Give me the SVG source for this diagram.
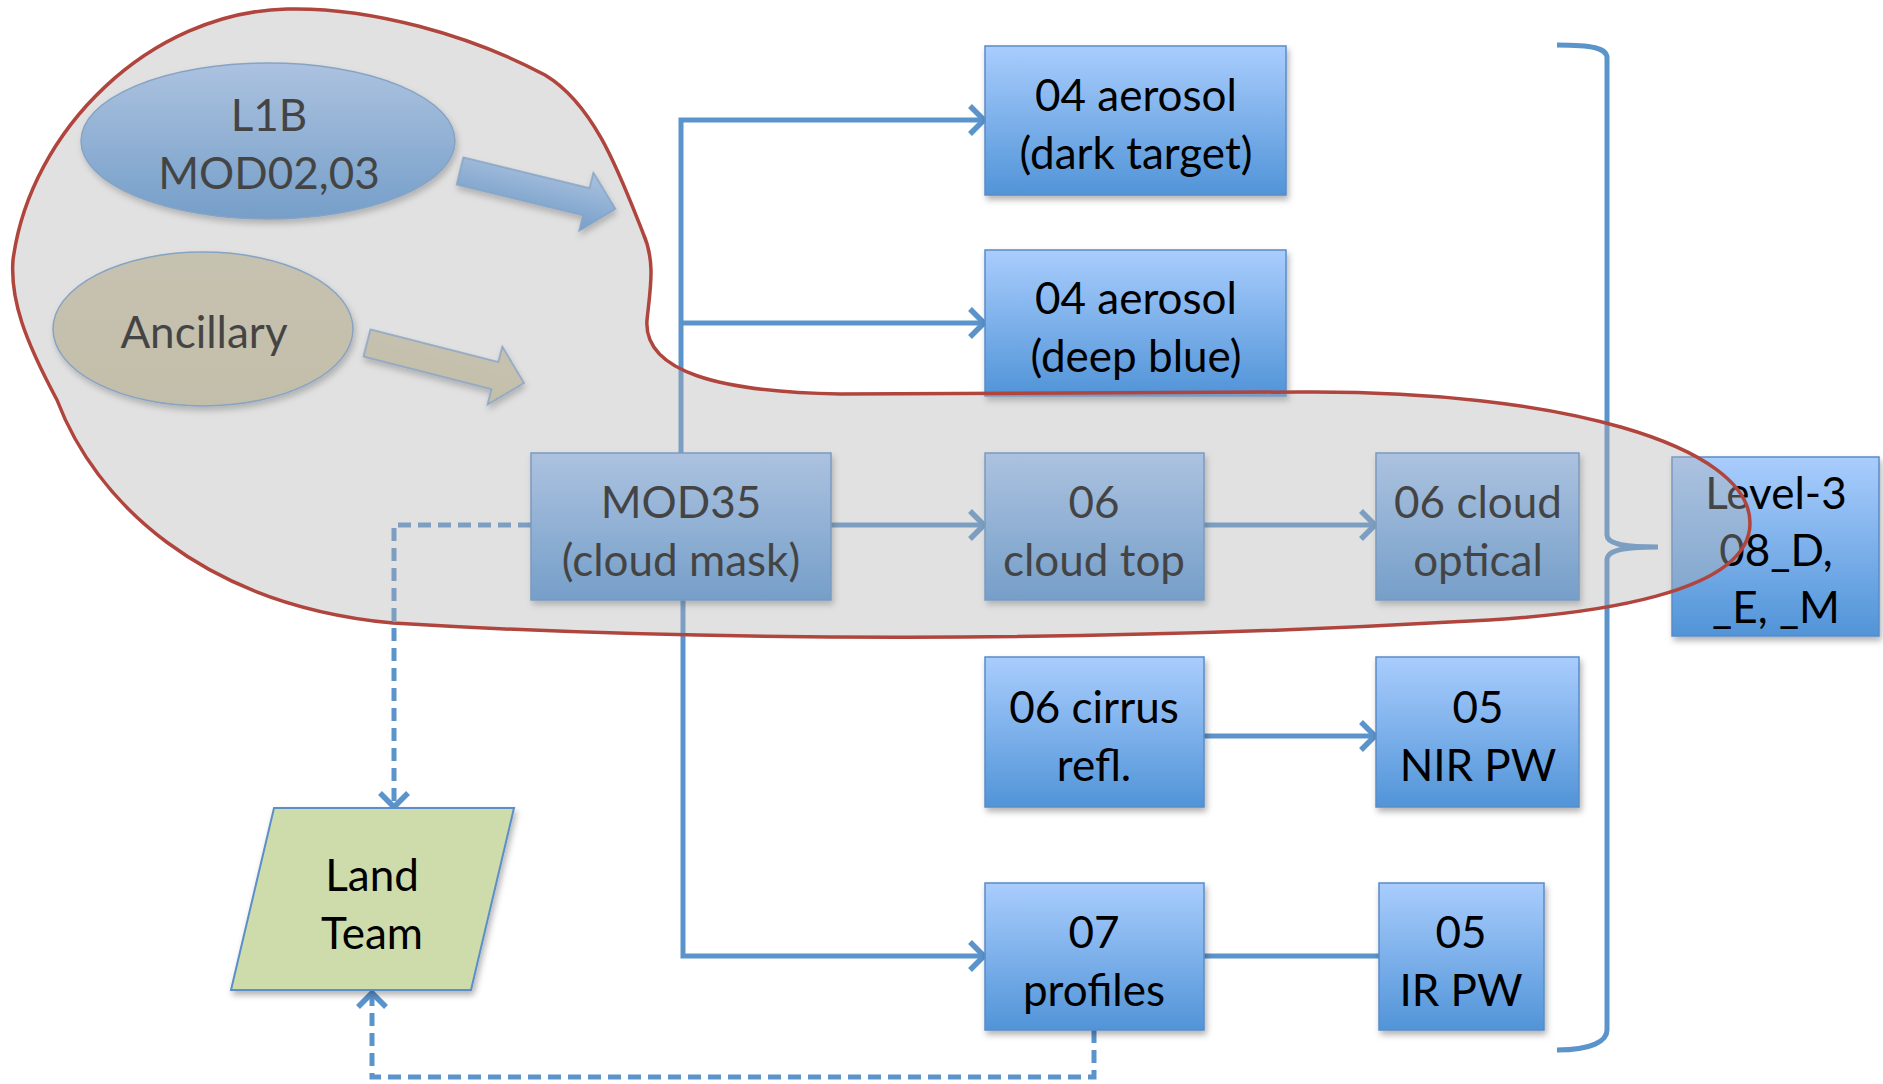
<svg xmlns="http://www.w3.org/2000/svg" width="1883" height="1084" viewBox="0 0 1883 1084">
<defs>
<linearGradient id="bg" x1="0" y1="0" x2="0" y2="1">
<stop offset="0" stop-color="#a9cdfd"/>
<stop offset="1" stop-color="#5194d8"/>
</linearGradient>
<linearGradient id="tan" x1="0" y1="0" x2="0" y2="1">
<stop offset="0" stop-color="#d4cdb0"/>
<stop offset="1" stop-color="#cfc7a6"/>
</linearGradient>
<filter id="sh" x="-10%" y="-10%" width="130%" height="130%">
<feDropShadow dx="2" dy="4" stdDeviation="3" flood-color="#000" flood-opacity="0.3"/>
</filter>
<marker id="ah" markerUnits="userSpaceOnUse" markerWidth="26" markerHeight="34" viewBox="0 0 26 34" refX="22" refY="17" orient="auto">
<path d="M7,3 L21,17 L7,31" fill="none" stroke="#5b93cb" stroke-width="5.5"/>
</marker>
<style>
.box{fill:url(#bg);stroke:#5a8cc8;stroke-width:1.5;filter:url(#sh)}
.t{font-family:Lato,"Open Sans",sans-serif;font-size:44px;text-anchor:middle;fill:#000}
.c{fill:none;stroke:#5b93cb;stroke-width:5}
.d{stroke-dasharray:13 7}
.blk{stroke:#6c9bd0;stroke-width:1.5;filter:url(#sh)}
</style>
</defs>
<rect width="1883" height="1084" fill="#fff"/>

<g id="connectors">
<path class="c" d="M681,453 L681,120 L985,120" marker-end="url(#ah)"/>
<path class="c" d="M681,323 L985,323" marker-end="url(#ah)"/>
<path class="c" d="M683,600 L683,956 L985,956" marker-end="url(#ah)"/>
<path class="c" d="M831,525 L985,525" marker-end="url(#ah)"/>
<path class="c" d="M1204,525 L1376,525" marker-end="url(#ah)"/>
<path class="c" d="M1204,736 L1376,736" marker-end="url(#ah)"/>
<path class="c" d="M1204,956 L1379,956"/>
<path class="c d" d="M531,525 L394,525 L394,808" marker-end="url(#ah)"/>
<path class="c d" d="M1094,1030 L1094,1077 L372,1077 L372,992" marker-end="url(#ah)"/>
<path class="c" d="M1557,45 C1592,45 1607,48 1607,58 L1607,535 C1607,543 1620,547 1658,547 C1620,547 1607,551 1607,560 L1607,1030 C1607,1041 1592,1050 1557,1050"/>
</g>

<g id="l1b">
<ellipse cx="268" cy="141" rx="187" ry="78" fill="url(#bg)" class="blk"/>
<text class="t" x="269" y="131">L1B</text>
<text class="t" x="269" y="189">MOD02,03</text>
</g>
<g id="l1b-arrow">
<polygon points="0,-14 130,-14 130,-30 160,0 130,30 130,14 0,14" transform="translate(460,171) rotate(13.7)" fill="url(#bg)" class="blk"/>
</g>
<g id="ancillary">
<ellipse cx="203" cy="329" rx="150" ry="77" fill="url(#tan)" class="blk"/>
<text class="t" x="204" y="348">Ancillary</text>
</g>
<g id="ancillary-arrow">
<polygon points="0,-14 132,-14 132,-30 162,0 132,30 132,14 0,14" transform="translate(367,343) rotate(14.3)" fill="url(#tan)" class="blk"/>
</g>

<g id="mod35">
<rect class="box" x="531" y="453" width="300" height="147"/>
<text class="t" x="681" y="518">MOD35</text>
<text class="t" x="681" y="576">(cloud mask)</text>
</g>
<g id="aerosol-dt">
<rect class="box" x="985" y="46" width="301" height="149"/>
<text class="t" x="1136" y="111">04 aerosol</text>
<text class="t" x="1136" y="169">(dark target)</text>
</g>
<g id="aerosol-db">
<rect class="box" x="985" y="250" width="301" height="146"/>
<text class="t" x="1136" y="314">04 aerosol</text>
<text class="t" x="1136" y="372">(deep blue)</text>
</g>
<g id="cloud-top">
<rect class="box" x="985" y="453" width="219" height="147"/>
<text class="t" x="1094" y="518">06</text>
<text class="t" x="1094" y="576">cloud top</text>
</g>
<g id="cloud-optical">
<rect class="box" x="1376" y="453" width="203" height="147"/>
<text class="t" x="1478" y="518">06 cloud</text>
<text class="t" x="1478" y="576">optical</text>
</g>
<g id="level3">
<rect class="box" x="1672" y="457" width="207" height="179"/>
<text class="t" x="1776" y="509">Level-3</text>
<text class="t" x="1776" y="566">08_D,</text>
<text class="t" x="1776" y="623">_E, _M</text>
</g>
<g id="cirrus">
<rect class="box" x="985" y="657" width="219" height="150"/>
<text class="t" x="1094" y="723">06 cirrus</text>
<text class="t" x="1094" y="781">refl.</text>
</g>
<g id="nir-pw">
<rect class="box" x="1376" y="657" width="203" height="150"/>
<text class="t" x="1478" y="723">05</text>
<text class="t" x="1478" y="781">NIR PW</text>
</g>
<g id="profiles">
<rect class="box" x="985" y="883" width="219" height="147"/>
<text class="t" x="1094" y="948">07</text>
<text class="t" x="1094" y="1006">profiles</text>
</g>
<g id="ir-pw">
<rect class="box" x="1379" y="883" width="165" height="147"/>
<text class="t" x="1461" y="948">05</text>
<text class="t" x="1461" y="1006">IR PW</text>
</g>
<g id="land-team">
<polygon points="274,808 514,808 471,990 231,990" fill="#cddcaa" stroke="#5b8fc8" stroke-width="2" filter="url(#sh)"/>
<text class="t" x="372" y="891">Land</text>
<text class="t" x="372" y="949">Team</text>
</g>

<g id="atmosphere-blob">
<path d="M287,9 C370,7 470,35 545,75 C595,105 620,175 643,233 C656,262 650,290 647,320 C643,372 720,392 840,394 L1300,392 C1560,390 1750,445 1750,523 C1750,592 1600,616 1450,622 C1100,642 700,642 393,623 C200,605 95,500 57,400 C25,340 10,300 13,260 C30,130 150,12 287,9 Z" fill="#b1b1b1" fill-opacity="0.385" stroke="#b0453d" stroke-width="3.5"/>
</g>
</svg>
